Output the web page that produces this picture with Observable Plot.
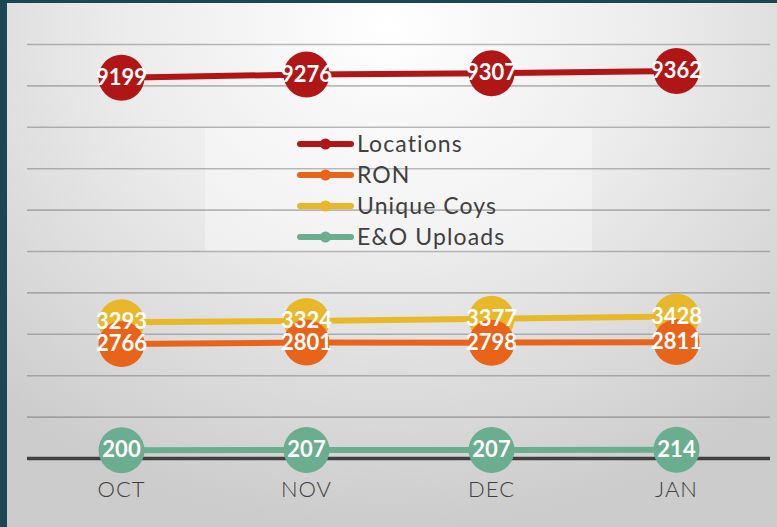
<!DOCTYPE html>
<html>
<head>
<meta charset="utf-8">
<script src="https://cdn.jsdelivr.net/npm/d3@7"></script>
<script src="https://cdn.jsdelivr.net/npm/@observablehq/plot@0.6"></script>
<style>
  html, body { margin: 0; padding: 0; }
  #wrap {
    position: relative; width: 777px; height: 527px; overflow: hidden;
    background: radial-gradient(ellipse 75% 95% at 50% 5%, #ffffff 0%, #ececec 45%, #cccccc 100%);
    font-family: Lato, "Open Sans", sans-serif;
  }
  #edgeL { position: absolute; left: 0; top: 0; width: 7px; height: 527px; background: #1b4654; }
  #edgeT { position: absolute; left: 0; top: 0; width: 777px; height: 3px; background: #1b4654; }
  #chart { position: absolute; left: 0; top: 0; }
  #chart g[aria-label="x-axis tick label"] text { letter-spacing: 1px; }
  #legendBox { position: absolute; left: 205px; top: 128px; width: 387px; height: 124px; background: rgba(255,255,255,0.35); }
  #legend { position: absolute; left: 297px; top: 128px; }
  .row { display: flex; align-items: center; height: 31px; }
  .row span { font-size: 23px; letter-spacing: 1.1px; color: #404040; margin-left: 3px; line-height: 31px; }
</style>
</head>
<body>
<div id="wrap">
  <div id="legendBox"></div>
  <div id="chart"></div>
  <div id="legend"></div>
  <div id="edgeL"></div>
  <div id="edgeT"></div>
</div>
<script>
const months = ["OCT", "NOV", "DEC", "JAN"];
const seriesNames = ["Locations", "RON", "Unique Coys", "E&O Uploads"];
const seriesColors = ["#b01616", "#e8641a", "#e8b82a", "#6aae8f"];
const locations = [9199, 9276, 9307, 9362];
const ron = [2766, 2801, 2798, 2811];
const uniqueCoys = [3293, 3324, 3377, 3428];
const eoUploads = [200, 207, 207, 214];
const yTicks = [0, 1000, 2000, 3000, 4000, 5000, 6000, 7000, 8000, 9000, 10000];

const valuesBySeries = [locations, ron, uniqueCoys, eoUploads];
// draw order: Locations, Unique Coys, RON, E&O
const drawOrder = [0, 2, 1, 3];
const data = [];
drawOrder.forEach(si => {
  months.forEach((m, i) => data.push({series: seriesNames[si], month: m, value: valuesBySeries[si][i]}));
});

const plot = Plot.plot({
  width: 777,
  height: 527,
  marginLeft: 27,
  marginRight: 7,
  marginTop: 44,
  marginBottom: 69,
  style: {background: "transparent", fontFamily: "Lato, 'Open Sans', sans-serif"},
  x: {type: "point", domain: months, padding: 0.5, label: null},
  y: {domain: [0, 10000], label: null},
  color: {domain: seriesNames, range: seriesColors},
  marks: [
    Plot.gridY(yTicks, {stroke: "#6a6a6a", strokeOpacity: 0.45, strokeWidth: 1.6}),
    Plot.ruleY([0], {stroke: "#404040", strokeWidth: 3.5}),
    Plot.axisY({ticks: [], label: null, tickSize: 0}),
    Plot.axisX({tickSize: 0, tickPadding: 23, fontSize: 22, fill: "#404040", fontWeight: 300, label: null}),
    ...drawOrder.map(si => Plot.line(data.filter(d => d.series === seriesNames[si]), {
      x: "month", y: "value", stroke: seriesColors[si], strokeWidth: 6
    })),
    Plot.dot(data, {x: "month", y: "value", fill: "series", r: 23, stroke: null}),
    Plot.text(data, {x: "month", y: "value", text: d => String(d.value), fill: "white", fontSize: 22, fontWeight: "bold"})
  ]
});
document.getElementById("chart").appendChild(plot);

const legend = document.getElementById("legend");
seriesNames.forEach((name, i) => {
  const row = document.createElement("div");
  row.className = "row";
  const c = seriesColors[i];
  row.innerHTML = `<svg width="57" height="12"><line x1="3" y1="6" x2="54" y2="6" stroke="${c}" stroke-width="6" stroke-linecap="round"/><circle cx="28.5" cy="6" r="5.5" fill="${c}"/></svg><span>${name.replace("&", "&amp;")}</span>`;
  legend.appendChild(row);
});
</script>
</body>
</html>
